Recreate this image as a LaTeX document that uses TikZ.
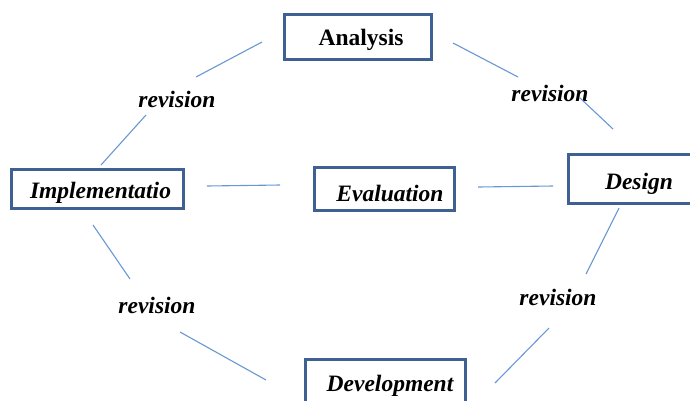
\documentclass[tikz,border=0pt]{standalone}
\usepackage{fontspec}
\setmainfont{Liberation Serif}
\definecolor{boxblue}{RGB}{63,96,146}
\definecolor{linkblue}{RGB}{104,152,212}
\begin{document}
\begin{tikzpicture}[x=1pt,y=-1pt,
  stagebox/.style={draw=boxblue,line width=3.2pt,fill=white,inner sep=0pt},
  stagetext/.style={font=\fontsize{23.5}{25}\selectfont\bfseries\itshape,inner sep=0pt},
  revtext/.style={font=\fontsize{23.5}{25}\selectfont\bfseries\itshape,inner sep=0pt},
  link/.style={draw=linkblue,line width=1.1pt}]
\useasboundingbox (0,0) rectangle (690,400);
\clip (0,0) rectangle (690,400);
% boxes
\node[stagebox,minimum width=147pt,minimum height=45pt] (anaB) at (358,37) {};
\node[stagebox,minimum width=172pt,minimum height=39pt] (impB) at (97.5,189) {};
\node[stagebox,minimum width=140pt,minimum height=43pt] (evaB) at (384.5,189) {};
\node[stagebox,minimum width=150pt,minimum height=49pt] (desB) at (643.5,179) {};
\node[stagebox,minimum width=160pt,minimum height=60pt] (devB) at (385.5,389.5) {};
% texts
\node[stagetext,font=\fontsize{23.5}{25}\selectfont\bfseries] (ana) at (361,40) {Analysis};
\node[stagetext] (imp) at (100.5,193) {Implementatio};
\node[stagetext] (eva) at (390,193) {Evaluation};
\node[stagetext] (des) at (639,184) {Design};
\node[stagetext] (dev) at (390,386) {Development};
\node[revtext] (r1) at (177,99) {revision};
\node[revtext] (r2) at (550,93) {revision};
\node[revtext] (r3) at (558,297) {revision};
\node[revtext] (r4) at (157,305) {revision};
% connector end points
\coordinate (a1) at (262,42); \coordinate (a2) at (196,77);
\coordinate (a3) at (146,115); \coordinate (a4) at (101,165);
\coordinate (b1) at (453,43); \coordinate (b2) at (518,77);
\coordinate (b3) at (580,98); \coordinate (b4) at (613,129);
\coordinate (c1) at (207,186); \coordinate (c2) at (280,185);
\coordinate (d1) at (478,187); \coordinate (d2) at (553,186);
\coordinate (e1) at (619,208); \coordinate (e2) at (586,274);
\coordinate (e3) at (549,328); \coordinate (e4) at (495,383);
\coordinate (f1) at (93,225); \coordinate (f2) at (130,279);
\coordinate (f3) at (180,332); \coordinate (f4) at (266,380);
\draw[link] (a1) -- (a2);
\draw[link] (a3) -- (a4);
\draw[link] (b1) -- (b2);
\draw[link] (b3) -- (b4);
\draw[link] (c1) -- (c2);
\draw[link] (d1) -- (d2);
\draw[link] (e1) -- (e2);
\draw[link] (e3) -- (e4);
\draw[link] (f1) -- (f2);
\draw[link] (f3) -- (f4);
\end{tikzpicture}
\end{document}
